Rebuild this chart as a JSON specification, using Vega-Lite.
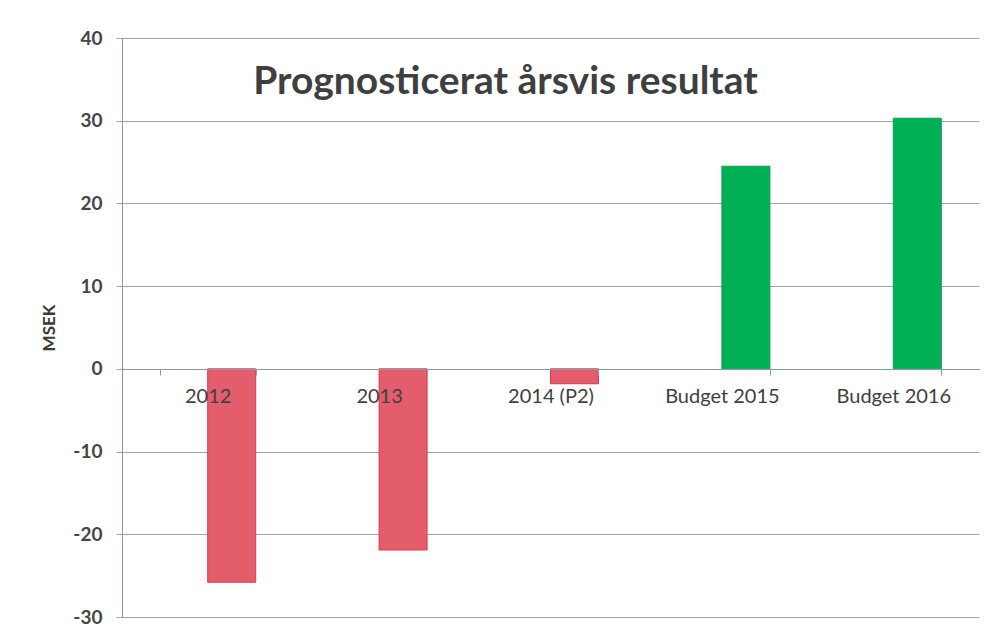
{
  "$schema": "https://vega.github.io/schema/vega-lite/v6.json",
  "autosize": "none",
  "width": 857,
  "height": 579,
  "padding": {"left": 122, "top": 38, "right": 13, "bottom": 21},
  "background": "white",
  "title": {
    "text": "Prognosticerat årsvis resultat",
    "font": "Lato",
    "fontSize": 39,
    "fontWeight": "bold",
    "color": "#3f3f3f",
    "anchor": "middle",
    "offset": -73,
    "dx": -45
  },
  "data": {
    "values": [
      {"ar": "2012", "serie": "b", "MSEK": -25.8},
      {"ar": "2013", "serie": "b", "MSEK": -21.9},
      {"ar": "2014 (P2)", "serie": "b", "MSEK": -1.8},
      {"ar": "Budget 2015", "serie": "b", "MSEK": 24.5},
      {"ar": "Budget 2016", "serie": "b", "MSEK": 30.3}
    ]
  },
  "mark": {"type": "bar", "strokeWidth": 1},
  "encoding": {
    "x": {
      "field": "ar",
      "type": "nominal",
      "sort": null,
      "scale": {"paddingInner": 0.44, "paddingOuter": 0.22},
      "axis": {
        "title": null,
        "orient": "bottom",
        "offset": -248,
        "zindex": 1,
        "labelAngle": 0,
        "labelFont": "Lato",
        "labelFontSize": 20,
        "labelColor": "#404040",
        "labelPadding": 11,
        "tickBand": "extent",
        "tickSize": 6,
        "tickColor": "#8a9aa8",
        "domainColor": "#8a9aa8",
        "grid": false
      }
    },
    "xOffset": {"field": "serie", "scale": {"domain": ["a", "b"]}},
    "y": {
      "field": "MSEK",
      "type": "quantitative",
      "scale": {"domain": [-30, 40], "nice": false, "zero": false},
      "axis": {
        "title": "MSEK",
        "titleFont": "Lato",
        "titleFontSize": 17,
        "titleFontWeight": "bold",
        "titleColor": "#3a3a3a",
        "titlePadding": 14,
        "values": [-30, -20, -10, 0, 10, 20, 30, 40],
        "labelExpr": "datum.value < 0 ? '-' + abs(datum.value) : '' + datum.value",
        "labelFont": "Lato",
        "labelFontSize": 19,
        "labelFontWeight": "bold",
        "labelColor": "#454545",
        "labelPadding": 14,
        "tickSize": 6,
        "tickColor": "#9aa4ae",
        "domainColor": "#8a9aa8",
        "gridColor": "#a0a4aa",
        "gridWidth": 1
      }
    },
    "color": {
      "condition": {"test": "datum.MSEK < 0", "value": "#e35d6c"},
      "value": "#00b054"
    },
    "stroke": {
      "condition": {"test": "datum.MSEK < 0", "value": "#d9384e"},
      "value": "#0f9a5a"
    }
  },
  "config": {"view": {"stroke": null}}
}
